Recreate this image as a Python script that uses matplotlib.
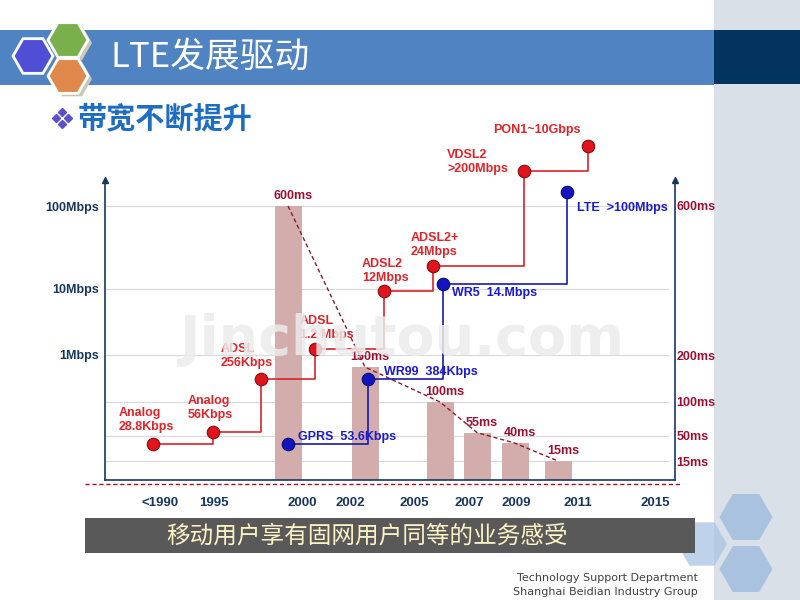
import matplotlib
matplotlib.use('Agg')
import matplotlib.pyplot as plt
import matplotlib.transforms as mtransforms
from matplotlib.patches import Rectangle, RegularPolygon
import numpy as np

plt.rcParams['font.family'] = ['Liberation Sans', 'Noto Sans CJK SC', 'DejaVu Sans']

# ---- data ----
years = ['<1990', '1995', '2000', '2002', '2005', '2007', '2009', '2011', '2015']
year_pos = [55, 109, 197, 245, 309, 364, 411, 473, 550]   # timeline position

# fixed network bandwidth (red), speed level on schematic axis
fixed_labels = ['Analog\n28.8Kbps', 'Analog\n56Kbps', 'ADSL\n256Kbps', 'ADSL\n1.2 Mbps',
                'ADSL2\n12Mbps', 'ADSL2+\n24Mbps', 'VDSL2\n>200Mbps', 'PON1~10Gbps']
fixed_pos = [48, 108, 156, 210, 279, 328, 419, 483]
fixed_level = [36, 48, 101, 131, 189, 214, 309, 334]

# mobile bandwidth (blue)
mobile_labels = ['GPRS  53.6Kbps', 'WR99  384Kbps', 'WR5  14.Mbps', 'LTE  >100Mbps']
mobile_pos = [183, 263, 338, 462]
mobile_level = [36, 101, 196, 288]

# latency bars
latency_ms = [600, 150, 100, 55, 40, 15]
latency_pos = [183, 260, 335, 372, 410, 453]

speed_ticks = ['100Mbps', '10Mbps', '1Mbps']
speed_tick_level = [273, 191, 126]
ms_ticks = [15, 50, 100, 200, 600]

# schematic (non-uniform) latency scale as drawn on the slide
ms_anchor = [0, 15, 50, 100, 150, 200, 600, 700]
ms_anchor_level = [0, 19, 44, 78, 113, 125, 274, 300]

# label offsets in pixels
fixed_off = [(-34, 24), (-25, 24), (-40, 23), (-15, 21), (-22, 20), (-22, 21), (-77, 9), (-95, 16)]
mobile_off = [(10, 7), (16, 7), (9, -9), (10, -16)]

navy = '#17375e'
red = '#e0141c'
blue = '#1414c0'
dred = '#9b1030'

fig = plt.figure(figsize=(8, 6), dpi=100)

# ---- slide decoration (pixel coords) ----
bg = fig.add_axes([0, 0, 1, 1], zorder=0)
bg.set_xlim(0, 800)
bg.set_ylim(600, 0)
bg.axis('off')

bg.add_patch(Rectangle((714, 0), 86, 600, color='#d9e0e8', lw=0))
bg.add_patch(Rectangle((0, 30), 714, 55, color='#4f83c1', lw=0))
bg.add_patch(Rectangle((714, 30), 86, 54, color='#03335f', lw=0))

for (cx, cy), c in [((72, 43), '#c9c9b8'), ((72, 79), '#c9c9b8')]:
    bg.add_patch(RegularPolygon((cx, cy), 6, radius=20, orientation=np.pi / 6, color=c, lw=0))
for (cx, cy), c in [((33, 56), '#4f4fd5'), ((68, 40), '#79b04b'), ((68, 76), '#e0894a')]:
    bg.add_patch(RegularPolygon((cx, cy), 6, radius=20, orientation=np.pi / 6,
                                facecolor=c, edgecolor='white', lw=2))

bg.text(110, 57, 'LTE发展驱动', color='white', fontsize=25, va='center',
        family=['Noto Sans CJK SC', 'DejaVu Sans'])
for dx, dy in [(-6, 0), (6, 0), (0, -6), (0, 6)]:
    bg.plot(62 + dx, 118 + dy, marker='D', ms=4.5, color='#5a4fcf', ls='none')
bg.text(78, 118, '带宽不断提升', color='#1d6ec2', fontsize=21, weight='bold', va='center',
        family=['Noto Sans CJK SC', 'DejaVu Sans'])

# bottom-right hexagons
bg.add_patch(RegularPolygon((702, 544), 6, radius=25, orientation=np.pi / 6,
                            color='#a9c4e3', alpha=0.75, lw=0))
bg.add_patch(RegularPolygon((746, 517), 6, radius=26.5, orientation=np.pi / 6, color='#a9c2df', lw=0))
bg.add_patch(RegularPolygon((746, 569), 6, radius=26.5, orientation=np.pi / 6, color='#a9c2df', lw=0))

bg.add_patch(Rectangle((85, 518), 610, 35, color='#595959', lw=0))
bg.text(367, 536, '移动用户享有固网用户同等的业务感受', color='#fbf3c4', fontsize=17,
        ha='center', va='center', family=['Noto Sans CJK SC', 'DejaVu Sans'])

bg.plot([85, 680], [484, 484], ls=(0, (3, 2)), color='#a01020', lw=1)

bg.text(698, 578, 'Technology Support Department', fontsize=8, color='#404040',
        ha='right', va='center', family=['DejaVu Sans'])
bg.text(698, 592, 'Shanghai Beidian Industry Group', fontsize=8, color='#404040',
        ha='right', va='center', family=['DejaVu Sans'])

# ---- chart ----
ax = fig.add_axes([105 / 800, 120 / 600, 570 / 800, 300 / 600], zorder=1)
ax.patch.set_visible(False)


def fwd(v):
    return np.interp(v, ms_anchor, ms_anchor_level)


def inv(v):
    return np.interp(v, ms_anchor_level, ms_anchor)


ax.set_yscale('function', functions=(fwd, inv))
ax.set_xlim(0, 570)
ax.set_ylim(0, 700)

sp = ax.twinx()
sp.set_zorder(2)
sp.patch.set_visible(False)
sp.set_ylim(0, 300)

# grid lines
for v in ms_ticks:
    ax.axhline(v, xmax=0.988, color='#d9d9d9', lw=0.8, zorder=0)
blend = mtransforms.blended_transform_factory(ax.transAxes, sp.transData)
ax.plot([0, 0.988], [speed_tick_level[1]] * 2, transform=blend, color='#d9d9d9', lw=0.8, zorder=0)

ax.bar(latency_pos, latency_ms, width=27, color='#d3acac', zorder=2)
ax.plot(latency_pos, latency_ms, ls=(0, (3, 2)), color='#8b1a2b', lw=1, zorder=3)
for x, v in zip(latency_pos, latency_ms):
    ax.annotate(f'{v}ms', (x, v), xytext=(5, 10), textcoords='offset pixels',
                ha='center', va='center', fontsize=9, weight='bold', color=dred, zorder=4)

for spn in ['left', 'right', 'bottom']:
    ax.spines[spn].set_color(navy)
    ax.spines[spn].set_linewidth(1.2)
ax.spines['top'].set_visible(False)
for spn in sp.spines.values():
    spn.set_visible(False)

ax.yaxis.tick_right()
ax.set_yticks(ms_ticks, [f'{v}ms' for v in ms_ticks])
ax.yaxis.set_minor_locator(matplotlib.ticker.NullLocator())
ax.tick_params(axis='y', length=0, pad=1, labelsize=9, labelcolor=dred)
for t in ax.get_yticklabels():
    t.set_fontweight('bold')
ax.set_xticks(year_pos, years)
ax.tick_params(axis='x', length=0, pad=12, labelsize=9.5, labelcolor=navy)
for t in ax.get_xticklabels():
    t.set_fontweight('bold')

sp.yaxis.tick_left()
sp.set_yticks(speed_tick_level, speed_ticks)
sp.tick_params(axis='y', length=0, pad=4, labelsize=9, labelcolor=navy)
for t in sp.get_yticklabels():
    t.set_fontweight('bold')

sp.plot([0, 1], [1, 1], transform=sp.transAxes, marker='^', ms=5, color=navy,
        ls='none', clip_on=False)

# bandwidth steps
sp.plot(fixed_pos, fixed_level, drawstyle='steps-post', color='#d8232a', lw=1.2, clip_on=False)
sp.plot(fixed_pos, fixed_level, 'o', ms=9, mfc=red, mec='#8c0a10', mew=0.8, clip_on=False)
sp.plot(mobile_pos, mobile_level, drawstyle='steps-post', color='#1a1aa8', lw=1.2, clip_on=False)
sp.plot(mobile_pos, mobile_level, 'o', ms=9, mfc=blue, mec='#0a0a70', mew=0.8, clip_on=False)

for lab, x, y, off in zip(fixed_labels, fixed_pos, fixed_level, fixed_off):
    sp.annotate(lab, (x, y), xytext=off, textcoords='offset pixels', ha='left', va='center',
                fontsize=9, weight='bold', color='#e0242a', linespacing=1.25, annotation_clip=False)
for lab, x, y, off in zip(mobile_labels, mobile_pos, mobile_level, mobile_off):
    sp.annotate(lab, (x, y), xytext=off, textcoords='offset pixels', ha='left', va='center',
                fontsize=9, weight='bold', color='#1a1ad0', annotation_clip=False)

# watermark
fig.text(402 / 800, 1 - 355 / 600, 'Jinchutou.com', fontsize=40, weight='bold',
         family=['DejaVu Sans'], color='#ebebeb', alpha=0.85,
         ha='center', va='baseline', zorder=10)

fig.savefig('out.png', dpi=100)
